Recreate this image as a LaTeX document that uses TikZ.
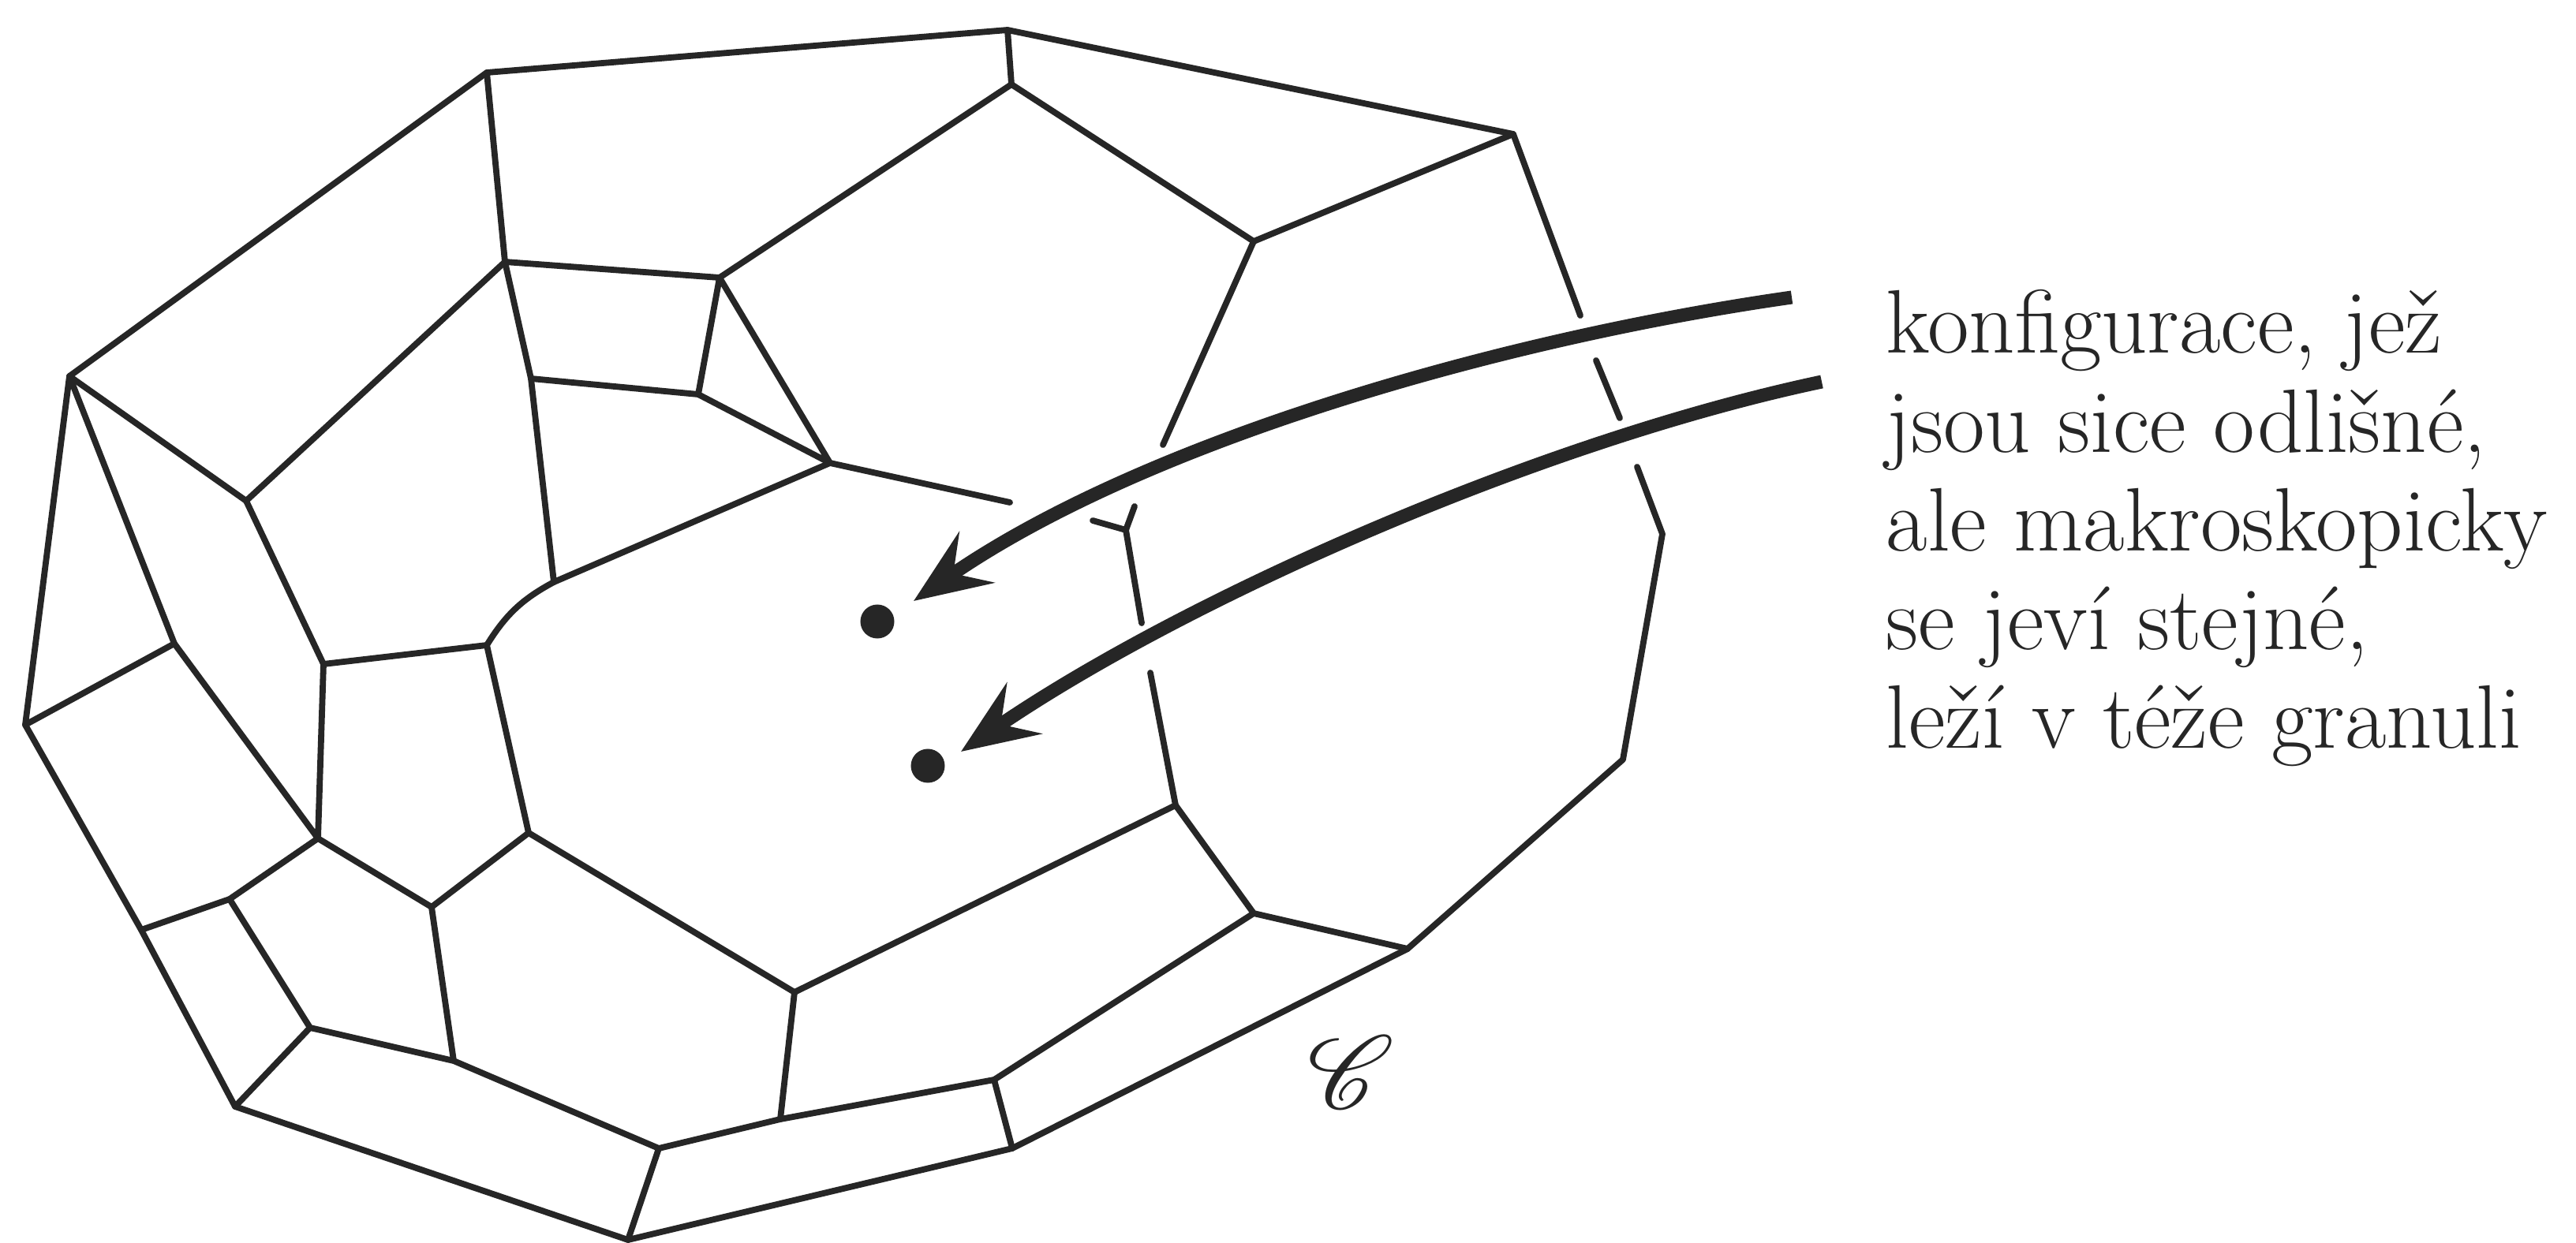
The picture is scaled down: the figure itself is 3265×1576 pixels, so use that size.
\documentclass[tikz,border=0pt]{standalone}
\usepackage{fontspec}
\usepackage{mathrsfs}
\usetikzlibrary{arrows.meta}
\begin{document}
\begin{tikzpicture}[x=0.01cm,y=-0.01cm,
  edge/.style={line width=0.078cm, line cap=round, line join=round, black!85},
  bigarrow/.style={line width=0.17cm, black!85, -{Stealth[length=0.97cm,width=0.78cm,inset=0.36cm]}},
  dotnode/.style={circle, fill=black!85, inner sep=0pt, minimum size=0.43cm},
  lbl/.style={anchor=base west, inner sep=0pt, font=\fontsize{32.5}{38}\selectfont, text=black!85}]
\useasboundingbox (0,0) rectangle (3265,1576);
% vertices
\coordinate (V1) at (617,92);
\coordinate (T) at (1277,38);
\coordinate (T2) at (1282,107);
\coordinate (R1) at (1918,170);
\coordinate (R2) at (1589,306);
\coordinate (R2e) at (1474,564);
\coordinate (A1) at (2003,400);
\coordinate (A2) at (2023,457);
\coordinate (A3) at (2053,530);
\coordinate (A4) at (2075,592);
\coordinate (RR1) at (2107,677);
\coordinate (RR2) at (2057,963);
\coordinate (Q3) at (1784,1203);
\coordinate (Q2) at (1589,1158);
\coordinate (Q1) at (1490,1021);
\coordinate (Q1e) at (1458,853);
\coordinate (Q4) at (1260,1369);
\coordinate (Q5) at (1283,1456);
\coordinate (V2) at (88,477);
\coordinate (V3) at (640,332);
\coordinate (V4) at (912,352);
\coordinate (V5) at (673,480);
\coordinate (V6) at (885,500);
\coordinate (V7) at (1052,587);
\coordinate (V7e) at (1280,637);
\coordinate (V8) at (312,635);
\coordinate (V9) at (702,738);
\coordinate (Y0) at (1427,672);
\coordinate (Ya) at (1385,660);
\coordinate (Yb) at (1438,642);
\coordinate (Yc) at (1447,790);
\coordinate (L1) at (32,919);
\coordinate (L2) at (221,816);
\coordinate (L3) at (410,842);
\coordinate (L4) at (617,818);
\coordinate (L5) at (403,1063);
\coordinate (L6) at (670,1056);
\coordinate (L7) at (547,1150);
\coordinate (L8) at (291,1140);
\coordinate (L9) at (179,1179);
\coordinate (L10) at (393,1303);
\coordinate (L11) at (575,1345);
\coordinate (L12) at (298,1403);
\coordinate (L13) at (835,1456);
\coordinate (L14) at (796,1572);
\coordinate (L15) at (1007,1258);
\coordinate (L16) at (989,1419);
% outer outline
\draw[edge] (A1) -- (R1) -- (T) -- (V1) -- (V2) -- (L1) -- (L9) -- (L12) -- (L14) -- (Q5) -- (Q3) -- (RR2) -- (RR1) -- (A4);
\draw[edge] (A2) -- (A3);
% upper inner edges
\draw[edge] (V1) -- (V3) -- (V4) -- (T2) -- (T);
\draw[edge] (T2) -- (R2) -- (R1);
\draw[edge] (R2) -- (R2e);
\draw[edge] (V3) -- (V8) -- (V2);
\draw[edge] (V3) -- (V5) -- (V6) -- (V4) -- (V7) -- (V6);
\draw[edge] (V5) -- (V9) -- (V7) -- (V7e);
\draw[edge] (V9) to[bend right=15] (L4);
\draw[edge] (Ya) -- (Y0) -- (Yb);
\draw[edge] (Y0) -- (Yc);
\draw[edge] (Q1e) -- (Q1);
% lower inner edges
\draw[edge] (V8) -- (L3) -- (L4) -- (L6);
\draw[edge] (V2) -- (L2) -- (L1);
\draw[edge] (L2) -- (L5) -- (L3);
\draw[edge] (L5) -- (L7) -- (L6);
\draw[edge] (L7) -- (L11);
\draw[edge] (L5) -- (L8) -- (L9);
\draw[edge] (L8) -- (L10) -- (L11) -- (L13) -- (L14);
\draw[edge] (L10) -- (L12);
\draw[edge] (L13) -- (L16) -- (L15) -- (L6);
\draw[edge] (L15) -- (Q1) -- (Q2) -- (Q3);
\draw[edge] (L16) -- (Q4) -- (Q5);
\draw[edge] (Q4) -- (Q2);
% dots
\node[dotnode] (d1) at (1112,788) {};
\node[dotnode] (d2) at (1176,971) {};
% arrows
\coordinate (s1) at (2271,377);
\coordinate (s2) at (2309,484);
\coordinate (e1) at (1158,762);
\coordinate (e2) at (1218,953);
\draw[bigarrow] (s1) .. controls (1900,430) and (1450,560) .. (e1);
\draw[bigarrow] (s2) .. controls (1950,560) and (1500,760) .. (e2);
% text
\node[lbl] (t1) at (2390,448) {konfigurace, jež};
\node[lbl] (t2) at (2390,573) {jsou sice odlišné,};
\node[lbl] (t3) at (2390,698) {ale makroskopicky};
\node[lbl] (t4) at (2390,823) {se jeví stejné,};
\node[lbl] (t5) at (2390,948) {leží v téže granuli};
\node[inner sep=0pt, text=black!85, scale=1.5] (cC) at (1712,1360) {\fontsize{30}{36}\selectfont$\mathscr{C}$};
\end{tikzpicture}
\end{document}
